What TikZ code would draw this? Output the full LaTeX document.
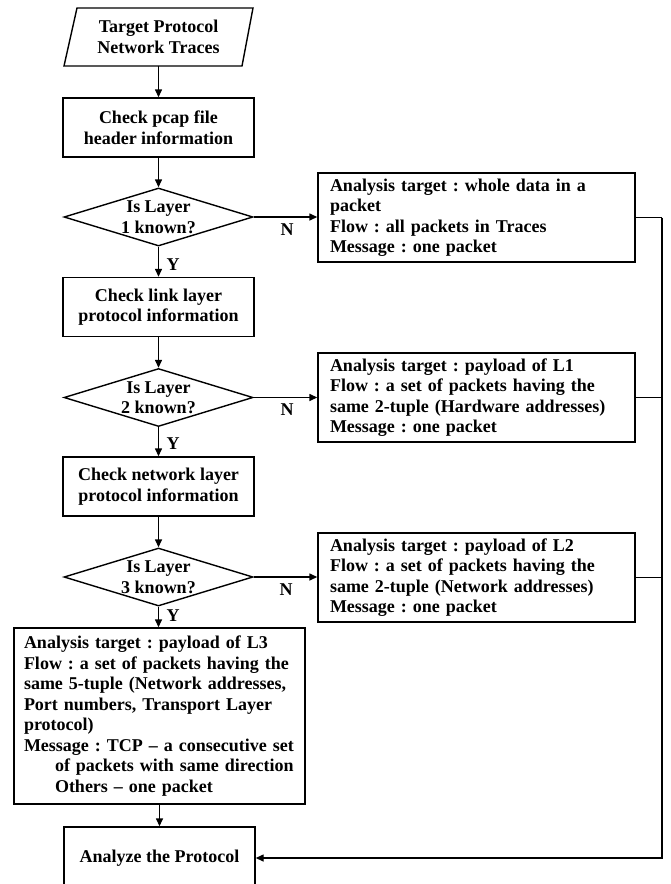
\documentclass[tikz,border=0pt]{standalone}
\usepackage{fontspec}
\setmainfont{Liberation Serif}
\usetikzlibrary{arrows.meta,shapes.geometric}
\frenchspacing
\hyphenpenalty=10000
\begin{document}
\begin{tikzpicture}[x=1pt,y=-1pt,
  every node/.style={font=\fontsize{18}{20.5}\selectfont\bfseries},
  line/.style={line width=1.4pt},
  arr/.style={line width=1.4pt,-{Triangle[length=8pt,width=7pt]}},
  box/.style={draw,line width=1.4pt,minimum width=191pt,minimum height=59pt,align=center,inner sep=0pt},
  dia/.style={draw,diamond,line width=1.4pt,minimum width=189pt,minimum height=58pt,inner sep=0pt},
  dtext/.style={align=center,inner sep=0pt},
  info/.style={draw,line width=1.4pt,text width=293pt,inner xsep=12pt,inner ysep=0pt,minimum height=89pt,align=left},
  yn/.style={inner sep=0pt}
]
\useasboundingbox (0,0) rectangle (670,884);
\clip (0,0) rectangle (670,884);
% start parallelogram
\draw[line] (64,66) -- (77,8) -- (253,8) -- (242,66) -- cycle;
\node[align=center,minimum height=58pt,inner sep=0pt] (start) at (158.5,37) {Target Protocol\\Network Traces};
\node[box] (b1) at (158.5,127.5) {Check pcap file\\header information};
\node[dia] (d1) at (158.5,217) {};
\node[dtext] (d1t) at (d1) {Is Layer\\1 known?};
\node[box] (b2) at (158.5,307) {Check link layer\\protocol information};
\node[dia] (d2) at (158.5,397.5) {};
\node[dtext] (d2t) at (d2) {Is Layer\\2 known?};
\node[box] (b3) at (158.5,486.5) {Check network layer\\protocol information};
\node[dia] (d3) at (158.5,577) {};
\node[dtext] (d3t) at (d3) {Is Layer\\3 known?};
\node[draw,line width=1.4pt,text width=271pt,inner xsep=10pt,inner ysep=0pt,minimum height=176pt,align=left] (l3) at (159.5,716)
 {Analysis target : payload of L3\\
  Flow : a set of packets having the\\
  same 5-tuple (Network addresses,\\
  Port numbers, Transport Layer\\
  protocol)\\
  Message : TCP -- a consecutive set\\
  \hspace*{31pt}of packets with same direction\\
  \hspace*{31pt}Others -- one packet};
\node[box,minimum height=62pt] (an) at (159.5,858) {Analyze the Protocol};
% right info boxes
\node[info] (ia) at (476.5,217.5) {Analysis target : whole data in a\\packet\\Flow : all packets in Traces\\Message : one packet};
\node[info] (ib) at (476.5,397.5) {Analysis target : payload of L1\\Flow : a set of packets having the\\same 2-tuple (Hardware addresses)\\Message : one packet};
\node[info] (ic) at (476.5,577.5) {Analysis target : payload of L2\\Flow : a set of packets having the\\same 2-tuple (Network addresses)\\Message : one packet};
% vertical flow
\draw[arr] (start.south) -- (b1.north);
\draw[arr] (b1.south) -- (d1.north);
\draw[arr] (d1.south) -- (b2.north);
\draw[arr] (b2.south) -- (d2.north);
\draw[arr] (d2.south) -- (b3.north);
\draw[arr] (b3.south) -- (d3.north);
\draw[arr] (d3.south) -- (d3.south |- l3.north);
\draw[arr] (l3.south -| an.north) -- (an.north);
% N branches
\draw[arr] (d1.east) -- (d1.east -| ia.west);
\draw[arr] (d2.east) -- (d2.east -| ib.west);
\draw[arr] (d3.east) -- (d3.east -| ic.west);
% bus
\coordinate (busA) at (662,217.5);
\coordinate (busEnd) at (662,858);
\draw[line] (ia.east) -- (busA);
\draw[line] (ib.east) -- (ib.east -| busA);
\draw[line] (ic.east) -- (ic.east -| busA);
\draw[arr] (busA) -- (busEnd) -- (an.east);
% labels
\node[yn] (n1) at (287,230) {N};
\node[yn] (n2) at (287,410) {N};
\node[yn] (n3) at (286,590) {N};
\node[yn] (y1) at (173,265) {Y};
\node[yn] (y2) at (173,444) {Y};
\node[yn] (y3) at (173,616) {Y};
\end{tikzpicture}
\end{document}
